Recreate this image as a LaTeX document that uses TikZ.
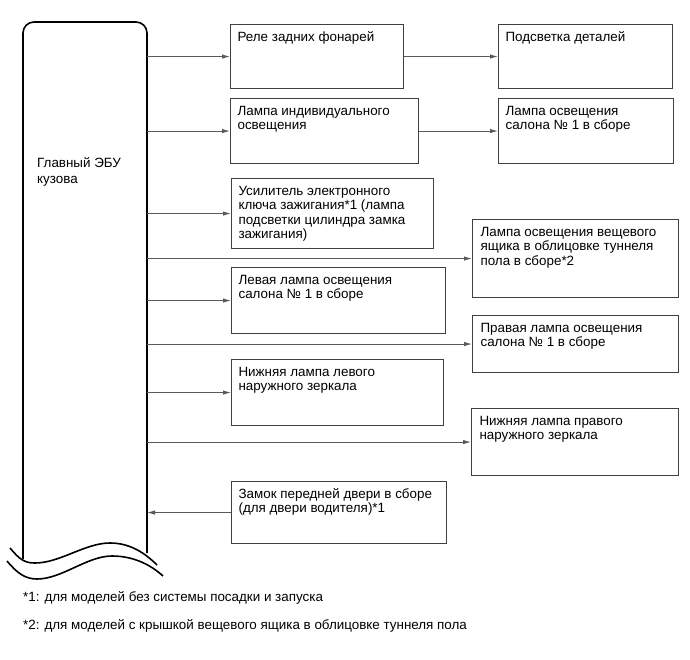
\documentclass[tikz,border=0pt]{standalone}
\usepackage{fontspec}
\setmainfont{Liberation Sans}
\usetikzlibrary{arrows.meta}
\definecolor{framegray}{RGB}{64,64,64}
\definecolor{wiregray}{RGB}{90,90,90}
% top aligned text inside a box of given outer size (pt)
\newcommand{\boxlines}[3]{\parbox[t][\dimexpr#2pt-13pt\relax][t]{\dimexpr#1pt-14pt\relax}{\raggedright\strut #3}}

\begin{document}
\begin{tikzpicture}[x=1pt,y=-1pt,
    font=\fontsize{13.4}{14.5}\selectfont,
    unitbox/.style={draw=framegray,line width=1.1pt,anchor=north west,inner xsep=7pt,inner ysep=6.5pt},
    wire/.style={draw=wiregray,line width=0.9pt,-{Latex[length=8pt,width=4.5pt]}},
    eculine/.style={line width=1.6pt,black}]
  \useasboundingbox (0,0) rectangle (690,660);
  % body ECU
  \draw[eculine,rounded corners=11pt] (23,559) -- (23,22) -- (147,22) -- (147,553);
  \draw[eculine] (10,548) .. controls (20,560) and (25,563) .. (35,563)
    .. controls (60,563) and (85,543) .. (110,543)
    .. controls (130,543) and (145,553) .. (157,565);
  \draw[eculine] (7,561) .. controls (17,573) and (25,579) .. (37,579)
    .. controls (62,579) and (87,556) .. (112,556)
    .. controls (135,556) and (152,566) .. (163,576);
  \coordinate (ecuR) at (147,0);
  \node[anchor=west,inner sep=0pt,align=left,font=\fontsize{13.4}{16.8}\selectfont] (ecuname) at (37,172) {Главный ЭБУ\\кузова};
  % outputs
  \node[unitbox] (relay) at (230,24) {\boxlines{173}{64}{Реле задних фонарей}};
  \node[unitbox] (detail) at (498,24) {\boxlines{174}{64}{Подсветка деталей}};
  \node[unitbox] (indiv) at (230,98) {\boxlines{188}{65}{Лампа индивидуального\\освещения}};
  \node[unitbox] (salon) at (498,98) {\boxlines{175}{65}{Лампа освещения\\салона № 1 в сборе}};
  \node[unitbox] (keyamp) at (231,178) {\boxlines{202}{70}{Усилитель электронного\\ключа зажигания*1 (лампа\\подсветки цилиндра замка\\зажигания)}};
  \node[unitbox,inner xsep=8pt] (tray) at (472,219) {\boxlines{204}{78}{Лампа освещения вещевого\\ящика в облицовке туннеля\\пола в сборе*2}};
  \node[unitbox] (leftlamp) at (231,267) {\boxlines{214}{66}{Левая лампа освещения\\салона № 1 в сборе}};
  \node[unitbox,inner xsep=8pt] (rightlamp) at (472,315) {\boxlines{204}{57}{Правая лампа освещения\\салона № 1 в сборе}};
  \node[unitbox] (mirrorL) at (231,359) {\boxlines{212}{66}{Нижняя лампа левого\\наружного зеркала}};
  \node[unitbox,inner xsep=8pt] (mirrorR) at (471,408) {\boxlines{205}{67}{Нижняя лампа правого\\наружного зеркала}};
  % input
  \node[unitbox] (doorlock) at (231,481) {\boxlines{215}{62}{Замок передней двери в сборе\\(для двери водителя)*1}};
  % wiring
  \foreach \n in {relay,indiv,keyamp,tray,leftlamp,rightlamp,mirrorL,mirrorR}
    \draw[wire] (\n.west -| ecuR) -- (\n.west);
  \draw[wire] (relay.east) -- (detail.west);
  \draw[wire] (indiv.east) -- (salon.west);
  \draw[wire] (doorlock.west) -- (doorlock.west -| ecuR);
  % notes
  \node[anchor=west,inner sep=0pt] (note1) at (23,598) {*1: для моделей без системы посадки и запуска};
  \node[anchor=west,inner sep=0pt] (note2) at (23,626) {*2: для моделей с крышкой вещевого ящика в облицовке туннеля пола};
\end{tikzpicture}
\end{document}
